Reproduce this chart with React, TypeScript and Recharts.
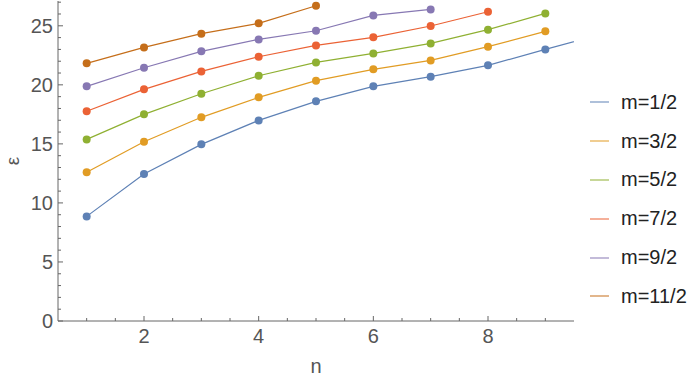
import React from 'react'
import { LineChart, Line, XAxis, YAxis } from 'recharts'

const nValues = [1, 2, 3, 4, 5, 6, 7, 8, 9, 10]

const m1 = [8.86, 12.45, 14.96, 16.99, 18.6, 19.87, 20.69, 21.65, 23.0, 24.33]
const m3 = [12.59, 15.18, 17.25, 18.94, 20.35, 21.31, 22.07, 23.23, 24.53]
const m5 = [15.38, 17.5, 19.25, 20.77, 21.9, 22.66, 23.51, 24.67, 26.05]
const m7 = [17.76, 19.62, 21.14, 22.38, 23.34, 24.02, 24.98, 26.19]
const m9 = [19.87, 21.45, 22.84, 23.85, 24.58, 25.88, 26.39]
const m11 = [21.82, 23.17, 24.33, 25.21, 26.7]

const seriesNames = ['m=1/2', 'm=3/2', 'm=5/2', 'm=7/2', 'm=9/2', 'm=11/2']
const seriesValues = [m1, m3, m5, m7, m9, m11]
const colors = ['#5e81b5', '#e19c24', '#8fb032', '#eb6235', '#8778b3', '#c56e1a']

const xTicks = [1, 1.5, 2, 2.5, 3, 3.5, 4, 4.5, 5, 5.5, 6, 6.5, 7, 7.5, 8, 8.5, 9]
const xLabels = [2, 4, 6, 8]
const yTicks = [0, 1, 2, 3, 4, 5, 6, 7, 8, 9, 10, 11, 12, 13, 14, 15, 16, 17, 18, 19, 20, 21, 22, 23, 24, 25, 26, 27]
const yLabels = [0, 5, 10, 15, 20, 25]

const frame = '#666666'
const labelColor = '#555555'
const font = '"Liberation Sans", Arial, sans-serif'

const series = seriesNames.map((name, i) => ({
  name,
  color: colors[i],
  data: seriesValues[i].map((v, j) => ({ x: nValues[j], y: v })),
}))

function BottomTick({ x, y, payload }: any) {
  const major = xLabels.includes(payload.value)
  return (
    <g>
      <line x1={x} x2={x} y1={y} y2={y - (major ? 5 : 3)} stroke={frame} />
      {major && (
        <text x={x} y={y + 22} textAnchor="middle" fill={labelColor} fontSize={20} fontFamily={font}>
          {payload.value}
        </text>
      )}
    </g>
  )
}

function TopTick({ x, y, payload }: any) {
  const major = xLabels.includes(payload.value)
  return <line x1={x} x2={x} y1={y} y2={y + (major ? 5 : 3)} stroke={frame} />
}

function LeftTick({ x, y, payload }: any) {
  const major = yLabels.includes(payload.value)
  return (
    <g>
      <line x1={x} x2={x + (major ? 5 : 3)} y1={y} y2={y} stroke={frame} />
      {major && (
        <text x={x - 5} y={y + 7} textAnchor="end" fill={labelColor} fontSize={20} fontFamily={font}>
          {payload.value}
        </text>
      )}
    </g>
  )
}

function RightTick({ x, y, payload }: any) {
  const major = yLabels.includes(payload.value)
  return <line x1={x} x2={x - (major ? 5 : 3)} y1={y} y2={y} stroke={frame} />
}

export default function App() {
  return (
    <div style={{ position: 'relative', width: 700, height: 382, background: '#fff' }}>
      <style>{'body{margin:0}'}</style>
      <LineChart width={700} height={382} margin={{ top: 1, right: 126, bottom: 0, left: 0 }}>
        <XAxis
          type="number"
          dataKey="x"
          domain={[0.5, 9.5]}
          allowDataOverflow
          ticks={xTicks}
          interval={0}
          height={61}
          tickSize={0}
          tickMargin={0}
          tickLine={false}
          axisLine={{ stroke: frame }}
          tick={<BottomTick />}
        />
        <XAxis
          xAxisId="top"
          orientation="top"
          type="number"
          dataKey="x"
          domain={[0.5, 9.5]}
          allowDataOverflow
          ticks={xTicks}
          interval={0}
          height={0}
          tickSize={0}
          tickMargin={0}
          tickLine={false}
          axisLine={{ stroke: frame }}
          tick={<TopTick />}
        />
        <YAxis
          type="number"
          domain={[0, 27.1]}
          allowDataOverflow
          ticks={yTicks}
          interval={0}
          width={58}
          tickSize={0}
          tickMargin={0}
          tickLine={false}
          axisLine={{ stroke: frame }}
          tick={<LeftTick />}
        />
        <YAxis
          yAxisId="right"
          orientation="right"
          type="number"
          domain={[0, 27.1]}
          allowDataOverflow
          ticks={yTicks}
          interval={0}
          width={0}
          tickSize={0}
          tickMargin={0}
          tickLine={false}
          axisLine={{ stroke: frame }}
          tick={<RightTick />}
        />
        {series.map((s) => (
          <Line
            key={s.name}
            data={s.data}
            dataKey="y"
            name={s.name}
            type="linear"
            stroke={s.color}
            strokeWidth={1.2}
            dot={{ r: 4, fill: s.color, stroke: s.color, strokeWidth: 0 }}
            activeDot={false}
            isAnimationActive={false}
          />
        ))}
      </LineChart>
      <div
        style={{
          position: 'absolute',
          left: 3,
          top: 149,
          width: 20,
          height: 24,
          lineHeight: '24px',
          textAlign: 'center',
          transform: 'rotate(-90deg)',
          fontFamily: font,
          fontSize: 19,
          color: labelColor,
        }}
      >
        ε
      </div>
      <div
        style={{
          position: 'absolute',
          left: 306,
          top: 354,
          width: 20,
          lineHeight: '24px',
          textAlign: 'center',
          fontFamily: font,
          fontSize: 20,
          color: labelColor,
        }}
      >
        n
      </div>
      <div style={{ position: 'absolute', left: 590, top: 83, fontFamily: font }}>
        {series.map((s) => (
          <div key={s.name} style={{ display: 'flex', alignItems: 'center', height: 38.8 }}>
            <div style={{ width: 19, height: 2, background: s.color, opacity: 0.5 }} />
            <span style={{ marginLeft: 12, fontSize: 20, color: '#222' }}>{s.name}</span>
          </div>
        ))}
      </div>
    </div>
  )
}
